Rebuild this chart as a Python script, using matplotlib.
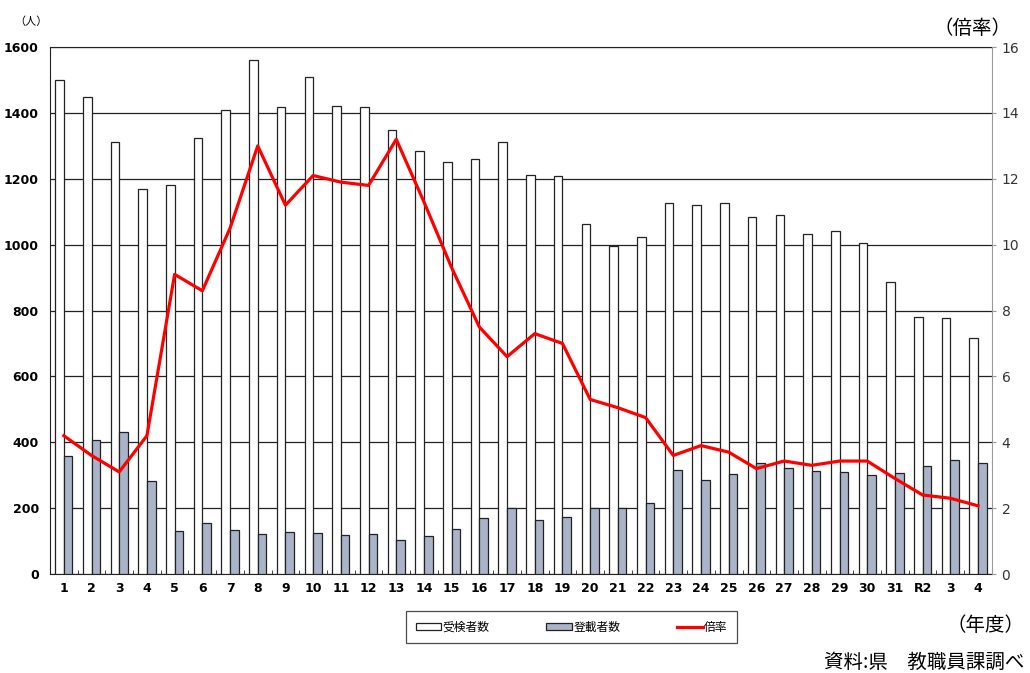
import numpy as np
import matplotlib
matplotlib.use("Agg")
from matplotlib import pyplot as plt
from matplotlib.patches import Patch
from matplotlib.lines import Line2D

plt.rcParams['font.family'] = ['Noto Sans CJK JP', 'DejaVu Sans']

# 年度ラベル
years = [str(i) for i in range(1, 32)] + ['R2', '3', '4']

# 受検者数 (人)
examinees = [1500, 1450, 1312, 1168, 1180, 1323, 1410, 1560, 1419, 1510,
             1422, 1419, 1349, 1285, 1252, 1261, 1312, 1213, 1210, 1062,
             997, 1022, 1128, 1122, 1128, 1083, 1090, 1032, 1043, 1005,
             888, 780, 777, 718]

# 登載者数 (人)
listed = [358, 407, 432, 282, 130, 154, 133, 121, 128, 124,
          118, 121, 103, 115, 136, 170, 200, 163, 173, 200,
          200, 215, 316, 286, 304, 337, 322, 313, 309, 300,
          307, 328, 347, 338]

# 倍率
ratio = [4.2, 3.6, 3.1, 4.2, 9.1, 8.6, 10.5, 13.0, 11.2, 12.1,
         11.9, 11.8, 13.2, 11.3, 9.3, 7.5, 6.6, 7.3, 7.0, 5.3,
         5.05, 4.75, 3.6, 3.9, 3.7, 3.2, 3.43, 3.3, 3.43, 3.43,
         2.9, 2.4, 2.3, 2.07]

x = np.arange(len(years))
w = 0.31
gray = '#aab4c8'

fig = plt.figure(figsize=(10.30, 6.73), dpi=100)
ax = fig.add_axes([0.0485, 0.1471, 0.9145, 0.7829])

ax.bar(x - w / 2, examinees, width=w, color='white', edgecolor='#222222',
       linewidth=0.9, zorder=3)
ax.bar(x + w / 2, listed, width=w, color=gray, edgecolor='#222222',
       linewidth=0.9, zorder=3)

ax.set_xlim(-0.5, len(years) - 0.5)
ax.set_ylim(0, 1600)
ax.set_yticks(np.arange(0, 1601, 200))
ax.yaxis.grid(True, color='#222222', linewidth=0.9, zorder=0)
ax.set_axisbelow(True)

ax.set_xticks(x)
ax.set_xticklabels(years, fontsize=9, fontweight='bold', family='DejaVu Sans')
ax.tick_params(axis='x', length=0, pad=6)
ax.set_xticks(np.arange(-0.5, len(years), 1), minor=True)
ax.tick_params(axis='x', which='minor', direction='in', length=3, color='#222222')
ax.tick_params(axis='y', length=0, labelsize=9, pad=8)
for lab in ax.get_yticklabels():
    lab.set_fontweight('bold')
    lab.set_family('DejaVu Sans')

for s in ['left', 'top', 'bottom']:
    ax.spines[s].set_color('#222222')
ax.spines['right'].set_visible(False)

ax2 = ax.twinx()
ax2.plot(x, ratio, color='#ff0000', linewidth=2.3, zorder=5)
ax2.set_ylim(0, 16)
ax2.set_yticks(np.arange(0, 17, 2))
ax2.tick_params(axis='y', direction='out', length=3, color='#999999',
                labelsize=10, labelcolor='#333333', pad=4)
for lab in ax2.get_yticklabels():
    lab.set_family('DejaVu Sans')
for s in ['left', 'top', 'bottom']:
    ax2.spines[s].set_visible(False)
ax2.spines['right'].set_color('#999999')

fig.text(0.014, 0.968, '（人）', fontsize=8, ha='left', va='center')
fig.text(0.982, 0.958, '（倍率）', fontsize=14, ha='right', va='center')
fig.text(0.995, 0.071, '（年度）', fontsize=14, ha='right', va='center')
fig.text(0.995, 0.016, '資料:県　教職員課調べ', fontsize=14, ha='right', va='center')

handles = [Patch(facecolor='white', edgecolor='#222222', linewidth=0.9),
           Patch(facecolor=gray, edgecolor='#222222', linewidth=0.9),
           Line2D([0], [0], color='#ff0000', linewidth=2.3)]
leg = fig.legend(handles, ['受検者数', '登載者数', '倍率'], ncol=3,
                 loc='center', bbox_to_anchor=(0.555, 0.068), fontsize=8.5,
                 frameon=True, fancybox=False, edgecolor='#222222',
                 handlelength=2.2, handleheight=0.5, handletextpad=0.1,
                 columnspacing=4.8, borderpad=0.8, borderaxespad=0)
leg.get_frame().set_linewidth(0.9)

fig.savefig('out.png', dpi=100)
